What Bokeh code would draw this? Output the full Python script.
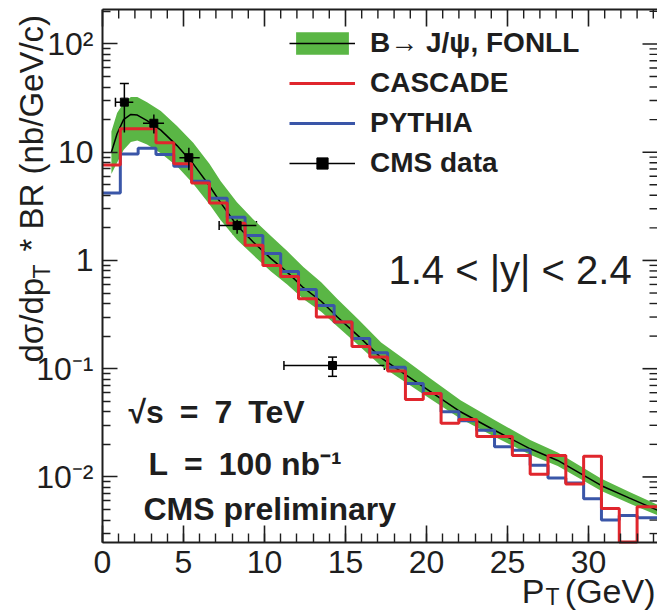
import math
from bokeh.plotting import figure
from bokeh.models import (LinearAxis, LogAxis, FixedTicker, Label, Legend, LegendItem,
                          ColumnDataSource, Range1d, Whisker, TeeHead)
from bokeh.embed import file_html
from bokeh.resources import INLINE

# ---------------- data ----------------
bin_edges = [0.0, 1.1, 2.2, 3.3, 4.4, 5.5, 6.6, 7.7, 8.8, 9.9, 11.0, 12.1, 13.2,
             14.3, 15.4, 16.5, 17.6, 18.7, 19.8, 20.9, 22.0, 23.1, 24.2, 25.3,
             26.4, 27.5, 28.6, 29.7, 30.8, 31.9, 33.0, 34.1, 35.2]
cascade = [7.6, 16.5, 16.5, 12.2, 7.8, 5.2, 3.4, 2.2, 1.38, 0.90, 0.71, 0.443,
           0.30, 0.27, 0.16, 0.128, 0.095, 0.052, 0.059, 0.0314, 0.034, 0.0237,
           0.0237, 0.0158, 0.0106, 0.0158, 0.0086, 0.0155, 0.0051, 0.0025,
           0.0053, 0.0053]
pythia = [4.2, 9.6, 10.9, 9.5, 7.4, 5.4, 3.75, 2.5, 1.70, 1.16, 0.79, 0.54,
          0.384, 0.27, 0.19, 0.14, 0.103, 0.073, 0.059, 0.040, 0.033, 0.027,
          0.019, 0.0176, 0.0128, 0.0098, 0.0088, 0.0063, 0.0040, 0.0044,
          0.0042, 0.0042]

fonll_pt = [0.55, 0.9, 1.3, 1.75, 2.15, 2.75, 3.6, 4.6, 5.6, 6.6, 7.3, 8.3,
            9.3, 10.4, 11.4, 12.4, 13.5, 14.5, 15.8, 17.2, 18.7, 20.2, 22.1,
            24.2, 26.4, 28.1, 30.8, 32.5, 34.3]
fonll_central = [10.0, 14.8, 20.0, 22.3, 22.0, 19.6, 16.0, 11.5, 7.8, 4.9, 3.4,
                 2.1, 1.48, 1.04, 0.78, 0.56, 0.42, 0.30, 0.20, 0.126, 0.088,
                 0.062, 0.040, 0.027, 0.0182, 0.0142, 0.0083, 0.0064, 0.0049]
fonll_low = [6.3, 8.0, 10.5, 12.4, 12.8, 11.8, 9.8, 7.4, 5.1, 3.3, 2.35, 1.55,
             1.12, 0.79, 0.60, 0.44, 0.335, 0.245, 0.165, 0.106, 0.075, 0.053,
             0.0345, 0.0235, 0.016, 0.0126, 0.0074, 0.0057, 0.0044]
fonll_high = [15.5, 23.0, 28.5, 32.3, 32.3, 29.0, 24.0, 17.5, 12.2, 7.8, 5.4,
              3.45, 2.4, 1.68, 1.22, 0.87, 0.63, 0.44, 0.285, 0.175, 0.12, 0.082,
              0.051, 0.0335, 0.022, 0.0168, 0.0096, 0.0073, 0.0055]

data_pt = [1.35, 3.17, 5.33, 8.31, 14.2]
data_xlow = [0.8, 2.5, 4.75, 7.2, 11.2]
data_xhigh = [1.9, 3.8, 6.0, 9.5, 17.4]
data_val = [29.0, 18.5, 8.9, 2.1, 0.107]
data_ylow = [15.2, 14.9, 6.8, 1.76, 0.085]
data_yhigh = [43.0, 22.3, 11.0, 2.38, 0.128]

x_ticks = [0, 5, 10, 15, 20, 25, 30]
x_minor = list(range(0, 35))
y_ticks = [0.01, 0.1, 1, 10, 100]
y_tick_labels = ["10⁻²", "10⁻¹", "1", "10", "10²"]

# ---------------- layout ----------------
W, H = 657, 611
PX_L, PX_R, PY_T, PY_B = 102, 657, 9, 542     # plot box on the canvas
X0, X1 = 0.0, 34.26
Y_LO, Y_HI = 0.00248, 208.0
FONT = "Liberation Sans"
INK = "#1e1e1e"
GREEN, RED, BLUE = "#5ab645", "#e0262d", "#3a56a8"

x_per_px = (X1 - X0) / (PX_R - PX_L)
lg_per_px = (math.log10(Y_HI) - math.log10(Y_LO)) / (PY_B - PY_T)


def X(px):
    return X0 + (px - PX_L) * x_per_px


def Y(py):
    return 10 ** (math.log10(Y_HI) - (py - PY_T) * lg_per_px)


y_minor = [m * 10.0 ** e for e in range(-3, 3) for m in range(2, 10)
           if Y_LO <= m * 10.0 ** e <= Y_HI]

# the frame covers the whole canvas; axes are pinned to the plot box
p = figure(width=W, height=H, output_backend="svg", toolbar_location=None,
           x_range=Range1d(X(0), X(W)), y_range=Range1d(Y(H), Y(0)),
           y_axis_type="log", x_axis_location=None, y_axis_location=None,
           min_border_left=0, min_border_right=0, min_border_top=0,
           min_border_bottom=0)
p.outline_line_color = None
p.xgrid.visible = False
p.ygrid.visible = False
p.background_fill_color = "white"
p.border_fill_color = "white"


def style_axis(ax, maj, mnr):
    ax.major_tick_in = maj
    ax.major_tick_out = 0
    ax.minor_tick_in = mnr
    ax.minor_tick_out = 0
    ax.major_tick_line_width = 1.6
    ax.minor_tick_line_width = 1.4
    ax.major_tick_line_color = INK
    ax.minor_tick_line_color = INK
    ax.axis_line_width = 2
    ax.axis_line_color = INK
    ax.major_label_text_font = FONT
    ax.major_label_text_font_size = "32px"
    ax.major_label_text_color = INK


xb = LinearAxis(ticker=FixedTicker(ticks=x_ticks, minor_ticks=x_minor),
                fixed_location=Y_LO, bounds=(X0, X1))
style_axis(xb, 17, 9)
xb.major_label_standoff = 8
p.add_layout(xb, "below")

yl = LogAxis(ticker=FixedTicker(ticks=y_ticks, minor_ticks=y_minor),
             major_label_overrides=dict(zip(y_ticks, y_tick_labels)),
             fixed_location=X0, bounds=(Y_LO, Y_HI))
style_axis(yl, 15, 8)
yl.major_label_standoff = 9
p.add_layout(yl, "left")

# top frame line and inward ticks on the top and right edges
p.segment(x0=[X0], y0=[Y_HI], x1=[X1], y1=[Y_HI], line_color=INK, line_width=2)
top_major = list(x_ticks)
top_minor = [t for t in x_minor if t not in x_ticks]
p.segment(x0=top_major, y0=[Y_HI] * len(top_major), x1=top_major,
          y1=[Y(PY_T + 17)] * len(top_major), line_color=INK, line_width=1.6)
p.segment(x0=top_minor, y0=[Y_HI] * len(top_minor), x1=top_minor,
          y1=[Y(PY_T + 9)] * len(top_minor), line_color=INK, line_width=1.4)
p.segment(x0=[X(PX_R - 15)] * len(y_ticks), y0=y_ticks,
          x1=[X1] * len(y_ticks), y1=y_ticks, line_color=INK, line_width=1.6)
p.segment(x0=[X(PX_R - 8)] * len(y_minor), y0=y_minor,
          x1=[X1] * len(y_minor), y1=y_minor, line_color=INK, line_width=1.4)

# ---------------- glyphs ----------------
band = p.varea(x=fonll_pt, y1=fonll_low, y2=fonll_high, fill_color=GREEN)
cline = p.line(x=fonll_pt, y=fonll_central, line_color="black", line_width=1.5)
blue_r = p.step(x=bin_edges, y=pythia + [pythia[-1]], mode="after",
                line_color=BLUE, line_width=3)
red_r = p.step(x=bin_edges, y=cascade + [cascade[-1]], mode="after",
               line_color=RED, line_width=3)

src = ColumnDataSource(dict(x=data_pt, y=data_val, xl=data_xlow, xh=data_xhigh,
                            yl=data_ylow, yh=data_yhigh))
xseg = p.segment(x0="xl", y0="y", x1="xh", y1="y", source=src,
                 line_color="black", line_width=1.5)
p.segment(x0="x", y0="yl", x1="x", y1="yh", source=src,
          line_color="black", line_width=1.5)
p.add_layout(Whisker(source=src, base="x", lower="yl", upper="yh",
                     dimension="height", line_alpha=0,
                     upper_head=TeeHead(size=9, line_width=1.5),
                     lower_head=TeeHead(size=9, line_width=1.5)))
p.add_layout(Whisker(source=src, base="y", lower="xl", upper="xh",
                     dimension="width", line_alpha=0,
                     upper_head=TeeHead(size=9, line_width=1.5),
                     lower_head=TeeHead(size=9, line_width=1.5)))
pts = p.scatter(x="x", y="y", source=src, marker="square", size=8,
                fill_color="black", line_color="black")

legend = Legend(items=[
    LegendItem(label="B→ J/ψ, FONLL", renderers=[band, cline]),
    LegendItem(label="CASCADE", renderers=[red_r]),
    LegendItem(label="PYTHIA", renderers=[blue_r]),
    LegendItem(label="CMS data", renderers=[xseg, pts]),
], location=(289, 432))
legend.label_text_font = FONT
legend.label_text_font_style = "bold"
legend.label_text_font_size = "28px"
legend.label_text_color = INK
legend.glyph_width = 66
legend.glyph_height = 28
legend.label_height = 28
legend.spacing = 8
legend.padding = 0
legend.margin = 0
legend.label_standoff = 15
legend.border_line_color = None
legend.background_fill_alpha = 0
p.add_layout(legend)

# ---------------- text annotations ----------------
# (px, py) is the wanted baseline start; the renderer places the anchor at
# mid-cap height, so the anchor is moved by about 0.36 em against the baseline.


def txt(px, py, s, size, bold=False, rotated=False, align="left"):
    shift = 0.36 * size
    if rotated:
        ax, ay, ang = px - shift, py, math.pi / 2
    else:
        ax, ay, ang = px, py - shift, 0.0
    p.add_layout(Label(x=X(ax), y=Y(ay), text=s, text_font=FONT,
                       text_font_size=f"{size}px",
                       text_font_style="bold" if bold else "normal",
                       text_color=INK, angle=ang, text_align=align,
                       text_baseline="alphabetic"))


EN = "\u2002"
txt(388, 284, "1.4 < |y| < 2.4", 40)
txt(128, 423, f"√s{EN}={EN}7{EN}TeV", 32, bold=True)
txt(148, 475, f"L{EN}={EN}100 nb⁻¹", 32, bold=True)
txt(143, 520, "CMS preliminary", 32, bold=True)

# x axis title  P_T (GeV)
txt(544, 603, "P", 34, align="right")
txt(545, 605, "T", 23)
txt(655, 603, "(GeV)", 34, align="right")

# y axis title  dσ/dp_T * BR (nb/GeV/c)
txt(43, 362, "dσ/dp", 33, rotated=True)
txt(50, 278, "T", 23, rotated=True)
txt(43, 251, "* BR (nb/GeV/c)", 33, rotated=True)

open("out.html", "w").write(file_html(p, INLINE))
